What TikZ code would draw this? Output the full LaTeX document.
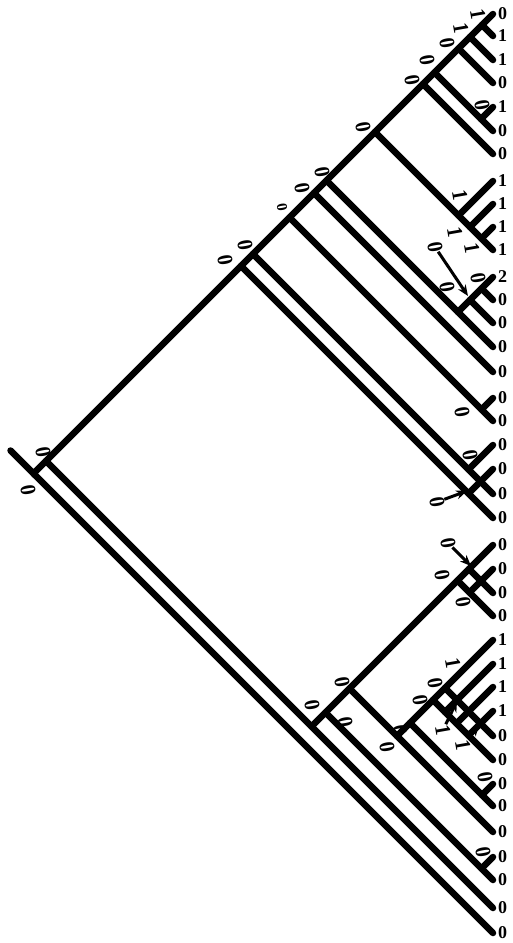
\documentclass[tikz,border=0pt]{standalone}
\usepackage{fontspec}
\setmainfont{Liberation Serif}
\usetikzlibrary{calc, arrows.meta}
\tikzset{
    branch/.style={line width=6.5pt, line cap=round, black},
    state_lbl/.style={font=\fontsize{18}{18}\selectfont\bfseries, anchor=west, inner sep=0pt},
    char_lbl/.style={font=\fontsize{20}{20}\selectfont\bfseries, rotate=-80, yscale=1.1, inner sep=0pt},
    small_lbl/.style={font=\fontsize{15}{15}\selectfont\bfseries, rotate=-80, inner sep=0pt},
    change_arrow/.style={-{Stealth[length=11pt, width=9pt]}, line width=3pt, black}
}
\def\tipx{493}
\def\tipy{{14,36,60,83,107,131,154,181,204,227,250,277,300,323,347,372,398,421,445,469,494,518,545,569,593,616,640,664,687,711,736,760,784,806,832,857,880,908,933}}
\newcommand{\clade}[3]{%
    \pgfmathsetmacro{\cya}{\tipy[#2-1]}%
    \pgfmathsetmacro{\cyb}{\tipy[#3-1]}%
    \coordinate (#1) at ({\tipx-(\cyb-\cya)/2}, {(\cya+\cyb)/2});%
}

\begin{document}
\begin{tikzpicture}[x=1pt, y=-1pt]
        \useasboundingbox (0,0) rectangle (513,943);
        % tips
        \foreach \i in {1,...,39} {
            \pgfmathsetmacro{\ty}{\tipy[\i-1]}
            \coordinate (t\i) at (\tipx,\ty);
        }
        % clades
        \clade{root}{1}{39}
        \clade{c1-38}{1}{38}
        \clade{c1-22}{1}{22}
        \clade{c1-21}{1}{21}
        \clade{c1-18}{1}{18}
        \clade{c1-16}{1}{16}
        \clade{c1-15}{1}{15}
        \clade{c1-11}{1}{11}
        \clade{c1-7}{1}{7}
        \clade{c1-6}{1}{6}
        \clade{c1-4}{1}{4}
        \clade{c1-3}{1}{3}
        \clade{c1-2}{1}{2}
        \clade{c5-6}{5}{6}
        \clade{c8-11}{8}{11}
        \clade{c9-11}{9}{11}
        \clade{c10-11}{10}{11}
        \clade{c12-15}{12}{15}
        \clade{c12-14}{12}{14}
        \clade{c12-13}{12}{13}
        \clade{c17-18}{17}{18}
        \clade{c19-21}{19}{21}
        \clade{c20-22}{20}{22}
        \clade{c23-38}{23}{38}
        \clade{c23-37}{23}{37}
        \clade{c36-37}{36}{37}
        \clade{c23-35}{23}{35}
        \clade{c27-35}{27}{35}
        \clade{c27-34}{27}{34}
        \clade{c33-34}{33}{34}
        \clade{c27-32}{27}{32}
        \clade{c27-31}{27}{31}
        \clade{c28-32}{28}{32}
        \clade{c29-32}{29}{32}
        \clade{c30-32}{30}{32}
        \clade{c23-26}{23}{26}
        \clade{c23-25}{23}{25}
        \clade{c24-26}{24}{26}
        \coordinate (stem) at ($(root)+(-23,-23)$);
        % main line and root
        \draw[branch] (stem) -- (root) -- (t1);
        \draw[branch] (root) -- (t39);
        % upper clade
        \foreach \a/\b in {c1-2/t2, c1-3/t3, c1-4/t4, c1-6/t6, c5-6/t5, c1-7/t7,
            c1-11/t11, c8-11/t8, c9-11/t9, c10-11/t10,
            c1-15/t15, c12-15/t12, c12-14/t14, c12-13/t13, c1-16/t16,
            c1-18/t18, c17-18/t17, c1-21/t21, c19-21/t19, c20-22/t20, c1-22/t22}
            \draw[branch] (\a) -- (\b);
        % lower clade
        \foreach \a/\b in {c1-38/t38, c23-38/t23, c23-37/t37, c36-37/t36,
            c23-35/t35, c27-35/t27, c27-34/t34, c33-34/t33,
            c27-32/t32, c27-31/t31, c28-32/t28, c29-32/t29, c30-32/t30,
            c23-26/t26, c23-25/t25, c24-26/t24}
            \draw[branch] (\a) -- (\b);
        % states at the tips
        \foreach \s [count=\i] in {0,1,1,0,1,0,0,1,1,1,1,2,0,0,0,0,0,0,0,0,0,0,0,0,0,0,1,1,1,1,0,0,0,0,0,0,0,0,0}
            \node[state_lbl] (s\i) at ($(t\i)+(5,0)$) {\s};
        % character changes
        \foreach \x/\y/\c [count=\k] in {478/14/1, 461/28/1, 447/43/0, 427/60/0, 412/80/0,
            482/105/0, 363/127/0, 322/172/0, 302/188/0, 245/245/0, 225/260/0,
            460/195/1, 455/232/1, 472/248/1, 435/247/0, 478/278/0, 447/287/0,
            462/412/0, 470/455/0, 437/502/0, 448/543/0, 442/575/0, 463/602/0,
            453/663/1, 435/683/0, 420/700/0, 342/682/0, 312/705/0, 345/722/0,
            400/730/0, 443/730/1, 463/745/1, 387/747/0, 485/777/0, 483/852/0,
            43/452/0, 28/490/0}
            \node[char_lbl] (m\k) at (\x,\y) {\c};
        \node[small_lbl] (m0) at (282,207) {0};
        % arrows
        \coordinate (a1) at (468,296);
        \coordinate (a2) at (467,491);
        \coordinate (a3) at (471,566);
        \coordinate (a4) at (457,701);
        \coordinate (a5) at (479,725);
        \draw[change_arrow] (m15) -- (a1);
        \draw[change_arrow] (m20) -- (a2);
        \draw[change_arrow] (m21) -- (a3);
        \draw[change_arrow] (m31) -- (a4);
        \draw[change_arrow] (m32) -- (a5);
    \end{tikzpicture}
\end{document}
